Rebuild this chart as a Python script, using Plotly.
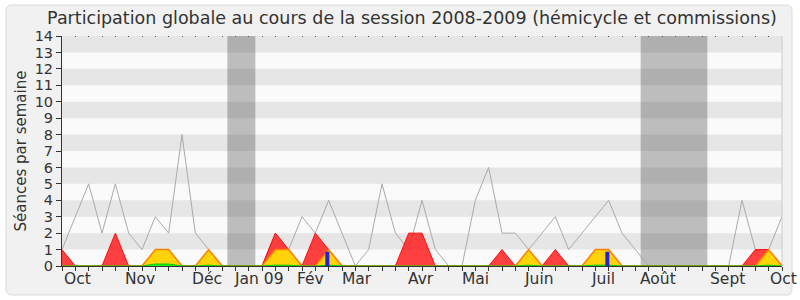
import plotly.graph_objects as go

weeks = list(range(55))
total = [1, 3, 5, 2, 5, 2, 1, 3, 2, 8, 2, 1, 0, 0, 0, 0, 2, 1, 3, 2, 4, 2, 0, 1, 5, 2, 1, 4, 1, 0,
         0, 4, 6, 2, 2, 1, 2, 3, 1, 2, 3, 4, 2, 1, 0, 0, 0, 0, 0, 0, 0, 4, 1, 1, 3]
commission = [1, 0, 0, 0, 2, 0, 0, 0, 0, 0, 0, 0, 0, 0, 0, 0, 2, 1, 0, 2, 1, 0, 0, 0, 0, 0, 2, 2, 0, 0,
              0, 0, 0, 1, 0, 0, 0, 1, 0, 0, 0, 0, 0, 0, 0, 0, 0, 0, 0, 0, 0, 0, 1, 1, 0]
hemicycle = [0, 0, 0, 0, 0, 0, 0, 1, 1, 0, 0, 1, 0, 0, 0, 0, 1, 1, 0, 0, 1, 0, 0, 0, 0, 0, 0, 0, 0, 0,
             0, 0, 0, 0, 0, 1, 0, 0, 0, 0, 1, 1, 0, 0, 0, 0, 0, 0, 0, 0, 0, 0, 0, 1, 0]
interventions = [0, 0, 0, 0, 0, 0, 0, 0.12, 0.12, 0, 0, 0.05, 0, 0, 0, 0, 0.05, 0.05, 0, 0, 0.05, 0, 0, 0, 0, 0, 0, 0, 0, 0,
                 0, 0, 0, 0, 0, 0.05, 0, 0, 0, 0, 0.05, 0.05, 0, 0, 0, 0, 0, 0, 0, 0, 0, 0, 0, 0.05, 0]
questions_x = [19.9, 40.9]
questions_y = [0.87, 0.87]
vacances = [(12.4, 14.5), (43.4, 48.4)]
month_labels = ["Oct", "Nov", "Déc", "Jan 09", "Fév", "Mar", "Avr", "Mai", "Juin", "Juil", "Août", "Sept", "Oct"]
month_pos = [1.15, 5.87, 10.9, 14.8, 18.6, 22.1, 26.9, 31.0, 35.8, 40.6, 44.7, 49.9, 54.1]

FONT = "DejaVu Sans"
L, R, T, B = 62, 18, 36, 34
PW, PH = 800 - L - R, 300 - T - B
XMAX = 54

def px2paper_x(px):
    return (px - L) / PW

def px2paper_y(py):
    return (300 - B - py) / PH

fig = go.Figure()
fig.add_trace(go.Scatter(x=weeks, y=total, mode="lines", line=dict(color="#AAAAAA", width=1),
                         hoverinfo="skip", showlegend=False))
fig.add_trace(go.Scatter(x=weeks, y=commission, mode="lines", fill="tozeroy", fillcolor="rgba(255,30,30,0.85)",
                         line=dict(color="#FF1010", width=1), showlegend=False))
fig.add_trace(go.Scatter(x=weeks, y=hemicycle, mode="lines", fill="tozeroy", fillcolor="#FFD20A",
                         line=dict(color="#FF7F00", width=1.5), showlegend=False))
fig.add_trace(go.Scatter(x=weeks, y=interventions, mode="lines", fill="tozeroy", fillcolor="#22EE22",
                         line=dict(color="#00CC00", width=1), showlegend=False))
# questions as vertical thick segments (scatter so they sit above the fills)
qx, qy = [], []
for xv, yv in zip(questions_x, questions_y):
    qx += [xv, xv, None]
    qy += [0, yv, None]
fig.add_trace(go.Scatter(x=qx, y=qy, mode="lines", line=dict(color="#2222DD", width=4),
                         hoverinfo="skip", showlegend=False))

shapes = []
x0, x1 = px2paper_x(6), px2paper_x(792)
y0, y1 = px2paper_y(295), px2paper_y(5)
rx, ry = 6 / PW, 6 / PH
path = (f"M {x0+rx},{y0} L {x1-rx},{y0} Q {x1},{y0} {x1},{y0+ry} L {x1},{y1-ry} Q {x1},{y1} {x1-rx},{y1} "
        f"L {x0+rx},{y1} Q {x0},{y1} {x0},{y1-ry} L {x0},{y0+ry} Q {x0},{y0} {x0+rx},{y0} Z")
shapes.append(dict(type="path", xref="paper", yref="paper", path=path, fillcolor="#F1F1F1",
                   line=dict(color="#D9D9D9", width=1), layer="below"))
shapes.append(dict(type="rect", xref="paper", yref="paper", x0=0, x1=1, y0=0, y1=1,
                   fillcolor="#FAFAFA", line=dict(width=0), layer="below"))
for v in range(1, 14, 2):
    shapes.append(dict(type="rect", xref="paper", yref="y", x0=0, x1=1, y0=v, y1=v + 1,
                       fillcolor="#E6E6E6", line=dict(width=0), layer="below"))
for a, b in vacances:
    shapes.append(dict(type="rect", xref="x", yref="y", x0=a, x1=b, y0=0, y1=14,
                       fillcolor="rgba(50,50,50,0.3)", line=dict(width=0), layer="below"))
shapes.append(dict(type="line", xref="paper", yref="paper", x0=1, x1=1, y0=0, y1=1,
                   line=dict(color="#CCCCCC", width=1)))

annotations = []
for lab, pos in zip(month_labels, month_pos):
    annotations.append(dict(x=pos / XMAX, y=px2paper_y(279), xref="paper", yref="paper", text=lab,
                            showarrow=False, font=dict(family=FONT, size=15.5, color="#333333"),
                            xanchor="center", yanchor="middle"))

fig.update_layout(
    width=800, height=300,
    margin=dict(l=L, r=R, t=T, b=B),
    paper_bgcolor="white", plot_bgcolor="rgba(0,0,0,0)",
    title=dict(text="Participation globale au cours de la session 2008-2009 (hémicycle et commissions)",
               x=412 / 800, xanchor="center", y=1 - 18 / 300, yanchor="middle",
               font=dict(family=FONT, size=17.5, color="#333333")),
    font=dict(family=FONT, color="#333333"),
    shapes=shapes, annotations=annotations,
    xaxis=dict(range=[0, XMAX], tickmode="linear", tick0=0, dtick=1, ticks="outside", ticklen=4,
               tickcolor="#333333", showticklabels=False, showgrid=False, zeroline=False,
               showline=True, linecolor="#333333", linewidth=1, fixedrange=True),
    xaxis2=dict(range=[0, XMAX], overlaying="x", side="top", tickmode="linear", tick0=0, dtick=1,
                ticks="inside", ticklen=1, tickcolor="#555555", showticklabels=False, showgrid=False,
                zeroline=False, showline=False),
    yaxis=dict(range=[0, 14], tickmode="linear", tick0=0, dtick=1, ticks="outside", ticklen=5,
               tickcolor="#333333", tickfont=dict(family=FONT, size=14.5, color="#333333"),
               showgrid=False, zeroline=False, showline=True, linecolor="#333333", linewidth=1,
               title=dict(text="Séances par semaine", font=dict(family=FONT, size=15, color="#333333"),
                          standoff=4)),
)
fig.add_trace(go.Scatter(x=[0], y=[0], xaxis="x2", mode="markers", marker=dict(opacity=0),
                         hoverinfo="skip", showlegend=False))
fig.write_html("out.html")
